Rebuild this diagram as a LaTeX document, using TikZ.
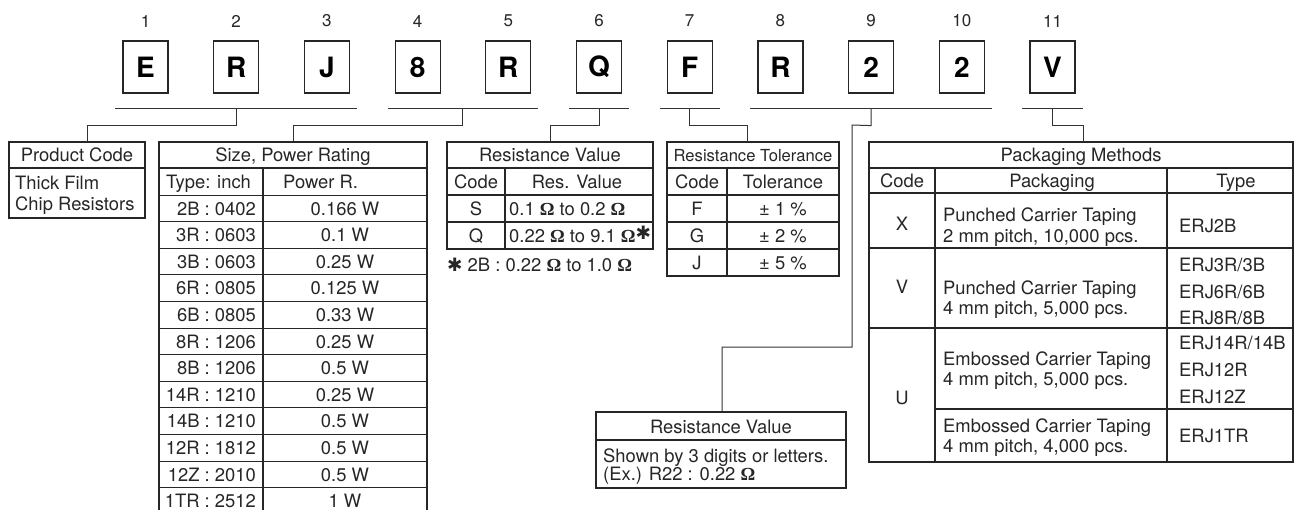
\documentclass[tikz,border=0pt]{standalone}
\usepackage{fontspec}
\setmainfont{TeX Gyre Heros}
\newfontfamily\omfont{Liberation Serif}
\newfontfamily\symfont{DejaVu Sans}
\newcommand\Om{{\omfont\bfseries Ω}}
\newcommand\hast{{\symfont ✱}}
\usetikzlibrary{calc}
\begin{document}
\begin{tikzpicture}[x=1pt,y=-1pt,
  ln/.style={draw=black!80,line width=1pt},
  tb/.style={draw=black!85,line width=1.1pt},
  txt/.style={inner sep=0pt,text=black!85,font=\fontsize{18.4}{21}\selectfont,text height=13.2pt,text depth=0pt},
  ltxt/.style={txt,anchor=west},
  rtxt/.style={txt,anchor=east},
  lbox/.style={draw=black!85,line width=1.2pt,minimum width=45pt,minimum height=52pt,inner sep=0pt,font=\fontsize{28}{30}\bfseries\selectfont},
  numlbl/.style={inner sep=0pt,text=black!85,font=\fontsize{17}{19}\selectfont}]
\useasboundingbox (0,0) rectangle (1295,509);
\clip (0,0) rectangle (1295,509);

% letter boxes and numbers
\foreach \i/\c in {1/E,2/R,3/J,4/8,5/R,6/Q,7/F,8/R,9/2,10/2,11/V}{
  \node[lbox] (b\i) at ({145.5+90.7*(\i-1)},67) {\c};
  \node[numlbl] (n\i) at ({145.5+90.7*(\i-1)},21) {\i};
}

% brackets
\draw[ln] ($(b1.south west)+(-7,15)$) coordinate (k1a) -- ($(b3.south east)+(7,15)$) coordinate (k1b);
\draw[ln] ($(b4.south west)+(-7,15)$) coordinate (k2a) -- ($(b5.south east)+(7,15)$) coordinate (k2b);
\draw[ln] ($(b6.south west)+(-7,15)$) coordinate (k3a) -- ($(b6.south east)+(7,15)$) coordinate (k3b);
\draw[ln] ($(b7.south west)+(-7,15)$) coordinate (k4a) -- ($(b7.south east)+(7,15)$) coordinate (k4b);
\draw[ln] ($(b8.south west)+(-7,15)$) coordinate (k5a) -- ($(b10.south east)+(7,15)$) coordinate (k5b);
\draw[ln] ($(b11.south west)+(-7,15)$) coordinate (k6a) -- ($(b11.south east)+(7,15)$) coordinate (k6b);

\coordinate (m1) at ($(b2.south)+(0,15)$);
\coordinate (m2) at ($(b4.south)!0.5!(b5.south)+(0,15)$);
\coordinate (m3) at ($(b6.south)+(0,15)$);
\coordinate (m4) at ($(b7.south)+(0,15)$);
\coordinate (m5) at ($(b9.south)+(0,15)$);
\coordinate (m6) at ($(b11.south)+(0,15)$);

% table tops
\coordinate (pcT) at (87,142);
\coordinate (szT) at (293,142);
\coordinate (rvT) at (550,142);
\coordinate (tlT) at (747,142);
\coordinate (pkT) at (1083,142);
\coordinate (brT) at (722,412);

% connectors
\draw[ln] (m1) -- ++(0,17) -| (pcT);
\draw[ln] (m2) -- ++(0,17) -| (szT);
\draw[ln] (m3) -- ++(0,17) -| (rvT);
\draw[ln] (m4) -- ++(0,17) -| (tlT);
\draw[ln] (m6) -- ++(0,17) -| (pkT);
\draw[ln] (m5) -- ++(0,17) -- (852,125) -- (852,347) -| (brT);

% Product Code
\draw[tb] (9,142) rectangle (145,218);
\draw[tb] (9,168) -- (145,168);
\node[txt] (pch) at (77,155) {Product Code};
\node[ltxt] (pc1) at (15,183) {Thick Film};
\node[ltxt] (pc2) at (15,204) {Chip Resistors};

% Size, Power Rating
\draw[tb] (159,142) rectangle (427,530);
\draw[tb] (159,168) -- (427,168);
\draw[tb] (263,168) -- (263,530);
\foreach \k in {1,...,13}{ \draw[tb] (159,{168.5+26.6*\k}) -- (427,{168.5+26.6*\k}); }
\node[txt] (szh) at (293,155) {Size, Power Rating};
\node[ltxt] (szc1) at (166,182) {Type: inch};
\node[ltxt] (szc2) at (283,182) {Power R.};
\foreach \k/\a/\b in {1/2B : 0402/0.166 W,2/3R : 0603/0.1 W,3/3B : 0603/0.25 W,4/6R : 0805/0.125 W,5/6B : 0805/0.33 W,6/8R : 1206/0.25 W,7/8B : 1206/0.5 W,8/14R : 1210/0.25 W,9/14B : 1210/0.5 W,10/12R : 1812/0.5 W,11/12Z : 2010/0.5 W,12/1TR : 2512/1 W}{
  \node[rtxt] (sza\k) at (256,{208.4+26.6*(\k-1)}) {\a};
  \node[txt] (szb\k) at (345,{208.4+26.6*(\k-1)}) {\b};
}

% Resistance Value
\draw[tb] (447,142) rectangle (653,249);
\foreach \yy in {168,195,222}{ \draw[tb] (447,\yy) -- (653,\yy); }
\draw[tb] (505,168) -- (505,249);
\node[txt] (rvh) at (550,155) {Resistance Value};
\node[txt] (rvc1) at (476,182) {Code};
\node[txt] (rvc2) at (577,182) {Res. Value};
\node[txt] (rvs) at (476,208.5) {S};
\node[ltxt] (rvsv) at (509,208.5) {0.1 \Om{} to 0.2 \Om};
\node[txt] (rvq) at (476,235.5) {Q};
\node[ltxt] (rvqv) at (509,235.5) {0.22 \Om{} to 9.1 \Om\raisebox{3pt}{\hast}};
\node[ltxt] (rvfn) at (447,265) {\hast{} 2B : 0.22 \Om{} to 1.0 \Om};

% Resistance Tolerance
\draw[tb] (667,142) rectangle (839,276);
\foreach \yy in {168,195,222,249}{ \draw[tb] (667,\yy) -- (839,\yy); }
\draw[tb] (727,168) -- (727,276);
\node[txt,font=\fontsize{16.6}{19}\selectfont] (tlh) at (753,155) {Resistance Tolerance};
\node[txt] (tlc1) at (697,182) {Code};
\node[txt] (tlc2) at (783,182) {Tolerance};
\foreach \k/\a/\b in {1/F/± 1 \%,2/G/± 2 \%,3/J/± 5 \%}{
  \node[txt] (tla\k) at (697,{208.5+27*(\k-1)}) {\a};
  \node[txt] (tlb\k) at (783,{208.5+27*(\k-1)}) {\b};
}

% Packaging Methods
\draw[tb] (869,142) rectangle (1293,462);
\foreach \yy in {168,193,248,328}{ \draw[tb] (869,\yy) -- (1293,\yy); }
\draw[tb] (935,409) -- (1293,409);
\draw[tb] (935,168) -- (935,462);
\draw[tb] (1167,168) -- (1167,462);
\node[txt] (pkh) at (1081,155) {Packaging Methods};
\node[txt] (pkc1) at (902,181) {Code};
\node[txt] (pkc2) at (1052,181) {Packaging};
\node[txt] (pkc3) at (1236,181) {Type};
\node[txt] (pkX) at (902,224) {X};
\node[ltxt] (pkX1) at (943,215) {Punched Carrier Taping};
\node[ltxt] (pkX2) at (943,236) {2 mm pitch, 10,000 pcs.};
\node[ltxt] (pkXt) at (1179,226) {ERJ2B};
\node[txt] (pkV) at (902,287) {V};
\node[ltxt] (pkV1) at (943,288) {Punched Carrier Taping};
\node[ltxt] (pkV2) at (943,308) {4 mm pitch, 5,000 pcs.};
\node[ltxt] (pkVt1) at (1179,265) {ERJ3R/3B};
\node[ltxt] (pkVt2) at (1179,292) {ERJ6R/6B};
\node[ltxt] (pkVt3) at (1179,318) {ERJ8R/8B};
\node[txt] (pkU) at (902,398) {U};
\node[ltxt] (pkU1) at (943,359) {Embossed Carrier Taping};
\node[ltxt] (pkU2) at (943,379) {4 mm pitch, 5,000 pcs.};
\node[ltxt] (pkUt1) at (1179,343) {ERJ14R/14B};
\node[ltxt] (pkUt2) at (1179,370) {ERJ12R};
\node[ltxt] (pkUt3) at (1179,397) {ERJ12Z};
\node[ltxt] (pkW1) at (943,426) {Embossed Carrier Taping};
\node[ltxt] (pkW2) at (943,446) {4 mm pitch, 4,000 pcs.};
\node[ltxt] (pkWt) at (1179,436) {ERJ1TR};

% bottom Resistance Value box
\draw[tb] (596,412) rectangle (846,488);
\draw[tb] (596,440) -- (846,440);
\node[txt] (brh) at (721,427) {Resistance Value};
\node[ltxt] (br1) at (603,456) {Shown by 3 digits or letters.};
\node[ltxt] (br2) at (603,474) {(Ex.) R22 : 0.22 \Om};
\end{tikzpicture}
\end{document}
